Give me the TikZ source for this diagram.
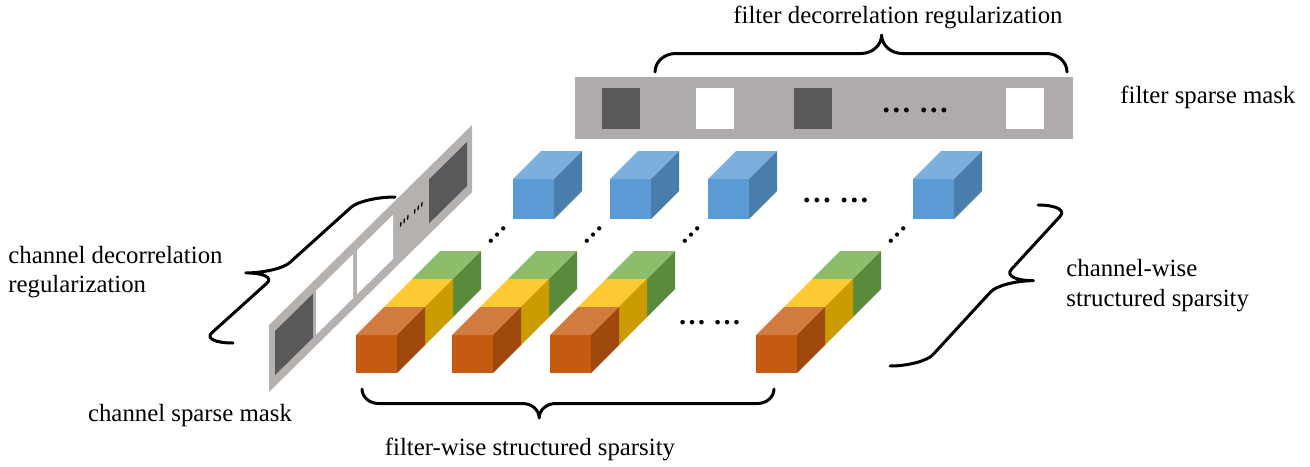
\documentclass[tikz,border=0pt]{standalone}
\usepackage{fontspec}
\setmainfont{Liberation Serif}
\usetikzlibrary{calc}
\definecolor{orF}{HTML}{C55A11}
\definecolor{orT}{HTML}{D27B40}
\definecolor{orS}{HTML}{9E480E}
\definecolor{yeF}{HTML}{FFC000}
\definecolor{yeT}{HTML}{FFC933}
\definecolor{yeS}{HTML}{CC9B00}
\definecolor{grF}{HTML}{70AD47}
\definecolor{grT}{HTML}{8CBD6B}
\definecolor{grS}{HTML}{5A8B3A}
\definecolor{blF}{HTML}{5B9BD5}
\definecolor{blT}{HTML}{7CAFDE}
\definecolor{blS}{HTML}{497DAC}
\definecolor{maskA}{HTML}{AFABAB}
\definecolor{maskB}{HTML}{B5B1AF}
\definecolor{darksq}{HTML}{595959}
% cube: x y w h front top side (depth 28)
\newcommand\mycube[7]{%
 \fill[#5] (#1,#2) rectangle ++(#3,#4);
 \fill[#6] (#1,#2) -- ++(#3,0) -- ++(28,-28) -- ++(-#3,0) -- cycle;
 \fill[#7] (#1+#3,#2) -- ++(28,-28) -- ++(0,#4) -- ++(-28,28) -- cycle;}
% point on the slanted channel mask plane
\newcommand\chpt[2]{(#1,{392-0.985*((#1)-269)-(#2)})}
\newcommand\chquad[5]{\fill[#5] \chpt{#1}{#3} -- \chpt{#2}{#3} -- \chpt{#2}{#4} -- \chpt{#1}{#4} -- cycle;}
% brace: #1 start, #2 end, #3 tip direction, #4 height, #5 tip position, #6 curl length, #7 name
\newcommand\drawbrace[7]{%
 \coordinate (#7a) at #1; \coordinate (#7b) at #2; \coordinate (#7n) at #3;
 \pgfmathsetmacro\bqH{#4}\pgfmathsetmacro\bqHH{#4/2}
 \pgfmathsetmacro\bqHc{#4/2*0.55}\pgfmathsetmacro\bqHt{#4-#4/2*0.55}
 \pgfmathsetmacro\bqr{#6}\pgfmathsetmacro\bqrc{#6*0.45}
 \pgfmathsetmacro\bqm{#5}
 \pgfmathsetmacro\bqmA{#5-#6}\pgfmathsetmacro\bqmAc{#5-#6*0.45}
 \pgfmathsetmacro\bqmB{#5+#6}\pgfmathsetmacro\bqmBc{#5+#6*0.45}
 \pgfmathsetmacro\bqE{1-#6}\pgfmathsetmacro\bqEc{1-#6*0.45}
 \draw[bracestyle] (#7a)
  .. controls ($(#7a)+\bqHc*(#7n)$) and ($(#7a)!\bqrc!(#7b)+\bqHH*(#7n)$) .. ($(#7a)!\bqr!(#7b)+\bqHH*(#7n)$)
  -- ($(#7a)!\bqmA!(#7b)+\bqHH*(#7n)$)
  .. controls ($(#7a)!\bqmAc!(#7b)+\bqHH*(#7n)$) and ($(#7a)!\bqm!(#7b)+\bqHt*(#7n)$) .. ($(#7a)!\bqm!(#7b)+\bqH*(#7n)$)
  .. controls ($(#7a)!\bqm!(#7b)+\bqHt*(#7n)$) and ($(#7a)!\bqmBc!(#7b)+\bqHH*(#7n)$) .. ($(#7a)!\bqmB!(#7b)+\bqHH*(#7n)$)
  -- ($(#7a)!\bqE!(#7b)+\bqHH*(#7n)$)
  .. controls ($(#7a)!\bqEc!(#7b)+\bqHH*(#7n)$) and ($(#7b)+\bqHc*(#7n)$) .. (#7b);}
\begin{document}
\begin{tikzpicture}[x=0.5pt,y=-0.5pt,
  bracestyle/.style={line width=1.5pt,line cap=round,line join=round,black},
  lbl/.style={font=\fontsize{12.4}{14.6}\selectfont,inner sep=0pt},
  dotsh/.style={font=\fontsize{15}{15}\selectfont\bfseries,inner sep=0pt},
  dotsd/.style={font=\fontsize{13}{13}\selectfont\bfseries,inner sep=0pt,rotate=45}]
\useasboundingbox (0,0) rectangle (1310,466);

% filter sparse mask
\fill[maskA] (575,77) rectangle (1073,139);
\fill[darksq] (602,88) rectangle (640,129);
\fill[white] (696,88) rectangle (734,129);
\fill[darksq] (794,88) rectangle (832,129);
\fill[white] (1006,88) rectangle (1044,129);
\node[dotsh] (fmdots) at (915,110) {… …};

% channel sparse mask
\chquad{269}{472}{0}{67}{maskB}
\chquad{275}{313}{11}{55}{darksq}
\chquad{316}{353}{11}{55}{white}
\chquad{357}{393}{11}{55}{white}
\chquad{429}{467}{11}{55}{darksq}
\node[dotsh,yslant=0.985,xscale=0.35] (cmdots) at (411.7,215) {… …};

% blue cubes
\foreach \x in {513,610,708,913}{\mycube{\x}{179}{41}{40}{blF}{blT}{blS}}
\node[dotsh] (bldots) at (835.5,200) {… …};

% cube columns
\foreach \x in {356,452,550,756}{
  \mycube{\x+56}{279}{41}{38}{grF}{grT}{grS}
  \mycube{\x+28}{307}{41}{38}{yeF}{yeT}{yeS}
  \mycube{\x}{335}{41}{38}{orF}{orT}{orS}
  \node[dotsd] (dd\x) at (\x+141.7,235.5) {…};
}
\node[dotsh,font=\fontsize{14}{14}\selectfont\bfseries] (ordots) at (709.7,322.7) {… …};

% braces
\drawbrace{(655,72)}{(1067,72)}{(0,-1)}{37}{0.55}{0.05}{bt}
\drawbrace{(362,389)}{(774,389)}{(0,1)}{29}{0.43}{0.04}{bb}
\drawbrace{(1038,205)}{(890,366)}{(1,0)}{65}{0.47}{0.07}{br}
\drawbrace{(395,197)}{(233,343)}{(-1,0)}{65}{0.52}{0.07}{bl}

% labels
\node[lbl,anchor=base] (fdr) at (898,24) {filter decorrelation regularization};
\node[lbl,anchor=base west] (fsm) at (1120,103) {filter sparse mask};
\node[lbl,anchor=west,align=left] (cws) at (1066,285.5) {channel-wise\\structured sparsity};
\node[lbl,anchor=west,align=left] (cdr) at (8,272) {channel decorrelation\\regularization};
\node[lbl,anchor=base] (csm) at (190,421) {channel sparse mask};
\node[lbl,anchor=base] (fws) at (530,455) {filter-wise structured sparsity};
\end{tikzpicture}
\end{document}
